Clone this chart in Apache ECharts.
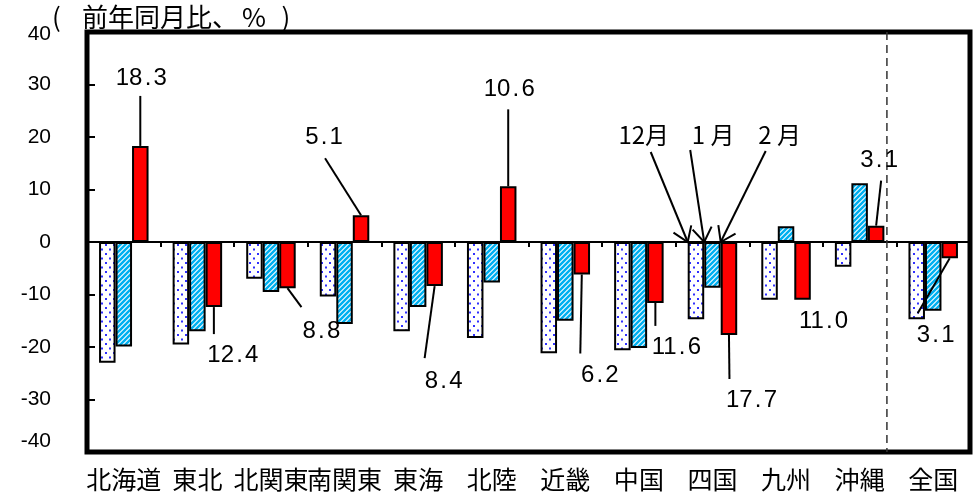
<!DOCTYPE html>
<html>
<head>
<meta charset="utf-8">
<script src="https://cdn.jsdelivr.net/npm/echarts@6/dist/echarts.min.js"></script>
<style>
  html, body { margin: 0; padding: 0; background: #fff; }
  #chart { width: 977px; height: 499px; }
</style>
</head>
<body>
<div id="chart"></div>
<script>
// Regions on the category axis
const regions = ['北海道', '東北', '北関東', '南関東', '東海', '北陸', '近畿', '中国', '四国', '九州', '沖縄', '全国'];
// Month names for the three series
const months = ['12月', '1 月', '2 月'];
// Year-on-year change (%) by region
const decValues = [-23.0, -19.5, -7.0, -10.4, -17.0, -18.3, -21.2, -20.6, -14.7, -11.0, -4.7, -14.7];
const janValues = [-19.9, -17.0, -9.5, -15.6, -12.4, -7.7, -15.0, -20.2, -8.7, 3.0, 11.2, -13.1];
const febValues = [18.3, -12.4, -8.8, 5.1, -8.4, 10.6, -6.2, -11.6, -17.7, -11.0, 3.1, -3.1];
// Value axis range
const yMin = -40, yMax = 40, yStep = 10;

const BAR_W = 16.5;
const LABEL_FONT = 'Liberation Sans, Arial, sans-serif';
const CJK_FONT = '"Noto Sans CJK JP", "Noto Sans CJK SC", sans-serif';

// Leader placement for the February labels, relative to the end of each red bar:
// [line end dx, line end dy, text dx, text dy]; a null line means label only.
const leaderLayout = [
  [0, -50, 1, -68],
  [0, 27, 19, 48],
  [14, 19, 34, 43],
  [-36, -57, -37, -78],
  [-10, 72, 9, 95],
  [0, -77, 1, -97],
  [-1.5, 79, 18, 101],
  [0, 23, 21, 44],
  [0.5, 44, 22.5, 65],
  [null, null, 21, 22],
  [5, -45, 3, -65],
  [-32, 55, -14, 77]
];
// Month call-outs point at the bars of this region
const monthTarget = 8;
// [arrow start dx, dy, text dx, dy] relative to the arrow tip
const monthLayout = [
  [-37, -90, -44, -107],
  [-14, -92, 9, -107],
  [45, -91, 59, -107]
];

// Fill patterns
function dotPattern() {
  const c = document.createElement('canvas');
  c.width = 8; c.height = 9;
  const g = c.getContext('2d');
  g.fillStyle = '#fff'; g.fillRect(0, 0, 8, 9);
  g.fillStyle = '#3030ff';
  g.fillRect(1, 1, 2, 2);
  g.fillRect(5, 5.5, 2, 2);
  return { image: c, repeat: 'repeat' };
}
function stripePattern() {
  const c = document.createElement('canvas');
  c.width = 5; c.height = 5;
  const g = c.getContext('2d');
  g.fillStyle = '#fff'; g.fillRect(0, 0, 5, 5);
  g.strokeStyle = '#00b0f0';
  g.lineWidth = 2.5;
  g.beginPath();
  g.moveTo(-1, 1); g.lineTo(1, -1);
  g.moveTo(0, 5); g.lineTo(5, 0);
  g.moveTo(4, 6); g.lineTo(6, 4);
  g.stroke();
  return { image: c, repeat: 'repeat' };
}

function valueRich(v) {
  const s = Math.abs(v).toFixed(1).split('.');
  return '{n|' + s[0] + '}{d|.}{n|' + s[1] + '}';
}
const valueRichStyle = {
  n: { fontSize: 24, fontFamily: LABEL_FONT, fill: '#000' },
  d: { fontSize: 24, fontFamily: LABEL_FONT, fill: '#000', width: 11, align: 'center' }
};

function renderLeader(params, api) {
  const i = api.value(0), v = api.value(1);
  const p = api.coord([i, v]);
  const x = p[0] + BAR_W, y = p[1];
  const L = leaderLayout[i];
  const children = [];
  if (L[0] !== null) {
    children.push({
      type: 'line',
      shape: { x1: x, y1: y, x2: x + L[0], y2: y + L[1] },
      style: { stroke: '#000', lineWidth: 2 }
    });
  }
  children.push({
    type: 'text',
    style: {
      text: valueRich(v), x: x + L[2], y: y + L[3],
      align: 'center', verticalAlign: 'middle',
      rich: valueRichStyle
    }
  });
  return { type: 'group', children };
}

function renderMonth(params, api) {
  const k = params.dataIndex;
  const c = api.coord([api.value(0), 0]);
  const tip = [c[0] + (k - 1) * BAR_W - BAR_W / 2, c[1]];
  const L = monthLayout[k];
  const start = [tip[0] + L[0], tip[1] + L[1]];
  const ang = Math.atan2(tip[1] - start[1], tip[0] - start[0]);
  const head = 17, spread = 0.6;
  const a1 = [tip[0] - head * Math.cos(ang - spread), tip[1] - head * Math.sin(ang - spread)];
  const a2 = [tip[0] - head * Math.cos(ang + spread), tip[1] - head * Math.sin(ang + spread)];
  return {
    type: 'group',
    children: [
      { type: 'line', shape: { x1: start[0], y1: start[1], x2: tip[0], y2: tip[1] }, style: { stroke: '#000', lineWidth: 2 } },
      { type: 'polyline', shape: { points: [a1, tip, a2] }, style: { stroke: '#000', lineWidth: 2, fill: null } },
      {
        type: 'text',
        style: {
          text: months[k], x: tip[0] + L[2], y: tip[1] + L[3],
          align: 'center', verticalAlign: 'middle',
          fontSize: 24, fontFamily: CJK_FONT, fill: '#000'
        }
      }
    ]
  };
}

// Dashed separator between the regions and the national total
function renderSeparator(params, api) {
  const i = api.value(0);
  const band = api.size([1, 0])[0];
  const x = api.coord([i, 0])[0] + band / 2 - 9.5;
  const y1 = api.coord([i, yMax])[1];
  const y2 = api.coord([i, yMin])[1];
  return {
    type: 'line',
    shape: { x1: x, y1: y1, x2: x, y2: y2 },
    style: { stroke: '#333', lineWidth: 1.5, lineDash: [8, 5] }
  };
}

// Unit caption, laid out in fixed-width pieces
const unitFont = { fontSize: 26, fontFamily: CJK_FONT, fill: '#000' };

const chart = echarts.init(document.getElementById('chart'), null, { renderer: 'canvas' });
chart.setOption({
  animation: false,
  backgroundColor: '#fff',
  grid: {
    left: 87, right: 7, top: 32, bottom: 47,
    show: true, borderColor: '#000', borderWidth: 5, backgroundColor: 'transparent'
  },
  graphic: [{
    type: 'text', left: 52, top: 4, z: 100,
    style: {
      text: '{o|(}{t|前年同月比}{k|、}{pc|%}{c|)}',
      rich: {
        o: Object.assign({ width: 30, align: 'left' }, unitFont),
        t: Object.assign({ width: 130, align: 'left' }, unitFont),
        k: Object.assign({ width: 22, align: 'left' }, unitFont),
        pc: Object.assign({ width: 40, align: 'center' }, unitFont),
        c: Object.assign({ width: 24, align: 'center' }, unitFont)
      }
    }
  }],
  xAxis: [
    {
      type: 'category', data: regions,
      axisLine: { onZero: true, lineStyle: { color: '#000', width: 2 } },
      axisTick: { show: true, length: 5, lineStyle: { color: '#000', width: 2 } },
      axisLabel: { show: false },
      splitLine: { show: false }
    },
    {
      type: 'category', data: regions, position: 'bottom',
      axisLine: { show: false }, axisTick: { show: false },
      axisLabel: { interval: 0, margin: 15, fontSize: 25, fontFamily: CJK_FONT, color: '#000' },
      splitLine: { show: false }
    }
  ],
  yAxis: {
    type: 'value', min: yMin, max: yMax, interval: yStep,
    axisLine: { show: false },
    axisTick: { show: true, inside: true, length: 8, lineStyle: { color: '#000', width: 2 } },
    splitLine: { show: false },
    axisLabel: {
      margin: 36, fontSize: 21, fontFamily: LABEL_FONT, color: '#000',
      formatter: function (v) {
        if (v === yMin) return '{lo|' + v + '}';
        if (v === yMax) return '{hi|' + v + '}';
        return String(v);
      },
      rich: {
        lo: { fontSize: 21, fontFamily: LABEL_FONT, color: '#000', padding: [0, 0, 21, 0] },
        hi: { fontSize: 21, fontFamily: LABEL_FONT, color: '#000', padding: [5, 0, 0, 0] }
      }
    }
  },
  series: [
    {
      name: months[0], type: 'bar', data: decValues, barWidth: BAR_W, barGap: '0%',
      itemStyle: { color: dotPattern(), borderColor: '#000', borderWidth: 2 }
    },
    {
      name: months[1], type: 'bar', data: janValues, barWidth: BAR_W, barGap: '0%',
      itemStyle: { color: stripePattern(), borderColor: '#000', borderWidth: 2 }
    },
    {
      name: months[2], type: 'bar', data: febValues, barWidth: BAR_W, barGap: '0%',
      itemStyle: { color: '#ff0000', borderColor: '#000', borderWidth: 2 }
    },
    {
      type: 'custom', renderItem: renderLeader, z: 10, clip: false, silent: true,
      data: febValues.map((v, i) => [i, v])
    },
    {
      type: 'custom', renderItem: renderMonth, z: 10, clip: false, silent: true,
      data: months.map(() => [monthTarget, 0])
    },
    {
      type: 'custom', renderItem: renderSeparator, z: 5, clip: false, silent: true,
      data: [[10, 0]]
    }
  ]
});
</script>
</body>
</html>
